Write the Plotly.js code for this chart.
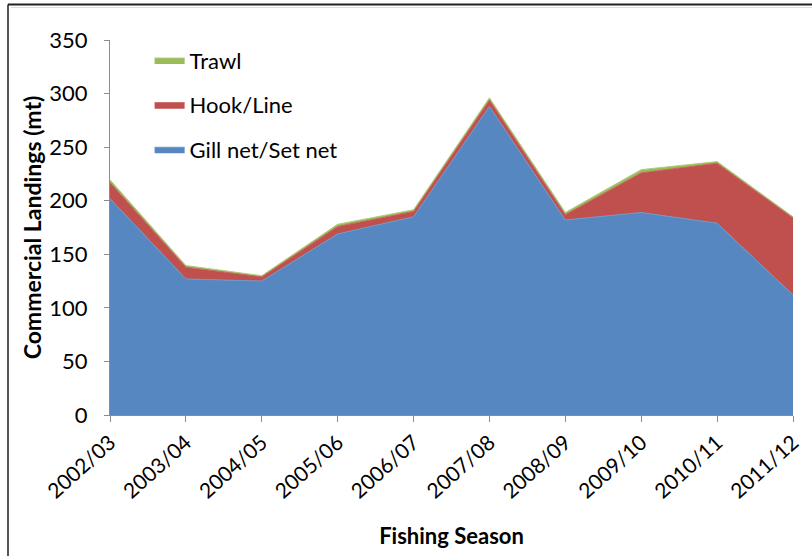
<!DOCTYPE html>
<html>
<head>
<meta charset="utf-8">
<script src="https://cdn.plot.ly/plotly-3.0.1.min.js"></script>
<style>
  html, body { margin: 0; padding: 0; background: #fff; }
  #chart { width: 812px; height: 556px; }
</style>
</head>
<body>
<div id="chart"></div>
<script>
// Commercial landings by gear type per fishing season (mt)
const seasons = ['2002/03', '2003/04', '2004/05', '2005/06', '2006/07',
                 '2007/08', '2008/09', '2009/10', '2010/11', '2011/12'];
const gillNet  = [202, 127, 125, 169, 185, 288, 182, 189, 179, 112];
const hookLine = [15, 11, 4, 7, 5, 6, 5, 37, 56, 72];
const trawl    = [2.5, 1.5, 1, 2, 1.5, 2, 2, 3, 1.5, 1];

const seriesNames = ['Gill net/Set net', 'Hook/Line', 'Trawl'];
const seriesData = [gillNet, hookLine, trawl];
const fillColors = ['#5787C1', '#C0504D', '#9BBB59'];
const lineColors = ['#6F98CC', '#C9625F', '#AFCB7A'];
// legend lists the top layer first
const legendRanks = [3, 2, 1];

const font = 'Lato, "Open Sans", "DejaVu Sans", sans-serif';

const traces = seriesNames.map((name, i) => ({
  type: 'scatter',
  mode: 'lines',
  name: name,
  x: seasons,
  y: seriesData[i],
  stackgroup: 'landings',
  legendgroup: 'g' + i,
  legendrank: legendRanks[i],
  fillcolor: fillColors[i],
  line: { color: lineColors[i], width: 1 },
  hoverinfo: 'x+y+name'
}));

// frame lines around the chart (top and left edges)
const frameLeft = (8 - 110) / 683;
const frameTop = (415 - 4.5) / 375;

const layout = {
  width: 812,
  height: 556,
  margin: { l: 110, r: 19, t: 40, b: 141 },
  paper_bgcolor: '#ffffff',
  plot_bgcolor: '#ffffff',
  font: { family: font, color: '#000000', size: 22 },
  showlegend: true,
  legend: {
    x: 0.058, y: 1.002, xanchor: 'left', yanchor: 'top',
    traceorder: 'grouped',
    tracegroupgap: 13,
    font: { family: font, size: 22, color: '#000' },
    bgcolor: 'rgba(0,0,0,0)',
    itemwidth: 30
  },
  xaxis: {
    type: 'category',
    range: [0, 9],
    showgrid: false,
    zeroline: false,
    showline: true,
    linecolor: '#8c8c8c',
    linewidth: 1,
    ticks: 'outside',
    ticklen: 6,
    tickcolor: '#8c8c8c',
    tickangle: -42,
    tickfont: { family: font, size: 21, color: '#000' },
    title: {
      text: '<b>Fishing Season</b>',
      font: { family: font, size: 22, color: '#000' },
      standoff: 26
    }
  },
  yaxis: {
    range: [0, 350],
    dtick: 50,
    showgrid: false,
    zeroline: false,
    showline: true,
    linecolor: '#8c8c8c',
    linewidth: 1,
    ticks: 'outside',
    ticklen: 5,
    tickcolor: '#8c8c8c',
    ticklabelstandoff: 12,
    tickfont: { family: font, size: 22, color: '#000' },
    title: {
      text: '<b>Commercial Landings (mt)</b>',
      font: { family: font, size: 23, color: '#000' },
      standoff: 1
    }
  },
  shapes: [
    { type: 'line', xref: 'paper', yref: 'paper',
      x0: frameLeft, x1: frameLeft, y0: -0.4, y1: frameTop,
      line: { color: '#555555', width: 2 } },
    { type: 'line', xref: 'paper', yref: 'paper',
      x0: frameLeft, x1: 1.05, y0: frameTop, y1: frameTop,
      line: { color: '#222222', width: 2 } },
    { type: 'line', xref: 'paper', yref: 'paper',
      x0: frameLeft + 0.004, x1: 1.05, y0: frameTop - 0.008, y1: frameTop - 0.008,
      line: { color: '#dddddd', width: 1 } }
  ]
};

Plotly.newPlot('chart', traces, layout, { displayModeBar: false, staticPlot: true });
</script>
</body>
</html>
